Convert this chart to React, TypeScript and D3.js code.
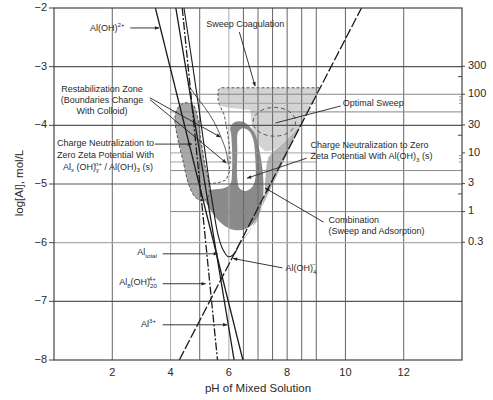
import React from "react";
import * as d3 from "d3";

type P = [number, number];

const W = 493;
const H = 400;

// axis domains and ticks
const phDomain: P = [0, 14];
const logDomain: P = [-8, -2];
const phTicks = [2, 4, 6, 8, 10, 12];
const logTicks = [-2, -3, -4, -5, -6, -7, -8];
const doseTicks = [300, 100, 30, 10, 3, 1, 0.3];
const doseMinor = [200, 20, 2];
const doseCluster = [90, 80, 70, 9, 8, 7];
const doseOffset = 5.47; // log[Al] = log10(dose mg/L) - 5.47

// grid
const vGridDark = [2, 5, 6.5, 7, 7.5, 8, 8.5, 9, 10, 12];
const vGridLight = [4, 6];
const hGridDark = [-3, -4, -5, -7];
const hGridLight = [-6];
const doseGridFull = [100, 50, 5, 1];
const doseGridPartial = [70, 10, 7];

// species lines (pH, log[Al])
const alOH2: P[] = [[3.48, -2], [6.48, -8]];
const al3: P[] = [[4.18, -2], [6.18, -8]];
const al8: P[] = [[4.4, -2], [5.61, -8]];
const alOH4: P[] = [[4.3, -8], [10.55, -2]];
const alTotal: P[] = [
  [4.46, -2], [4.73, -2.89], [4.98, -3.74], [5.22, -4.59], [5.42, -5.27],
  [5.63, -5.87], [5.8, -6.12], [5.98, -6.24], [6.18, -6.19], [6.32, -6.06],
];
const thinCurve: P[] = [
  [4.6, -3.3], [4.84, -3.48], [5.18, -3.7], [5.49, -3.94], [5.73, -4.2], [5.91, -4.45], [5.98, -4.67],
];

// zones
const capsule: P[] = [
  [4.25, -3.7], [4.49, -3.62], [4.77, -3.65], [4.91, -3.82], [5.04, -4.25], [5.18, -4.68],
  [5.32, -5.02], [5.29, -5.22], [5.08, -5.29], [4.84, -5.22], [4.63, -5.02], [4.42, -4.59],
  [4.22, -4.16], [4.15, -3.87],
];
const sweepZone: P[] = [
  [5.63, -3.4], [5.73, -3.36], [9.11, -3.36], [8.49, -3.98], [8.18, -4.15], [7.87, -4.3],
  [7.53, -4.42], [7.25, -4.44], [7.04, -4.35], [6.91, -4.22], [6.8, -4.05], [6.77, -3.87],
  [6.73, -3.74], [5.98, -3.7], [5.73, -3.67], [5.63, -3.57],
];
const combinationZone: P[] = [
  [8.49, -3.98], [7.5, -5.01], [6.8, -5.74], [6.25, -6.13], [6.39, -5.99], [6.67, -5.82],
  [6.94, -5.65], [7.11, -5.44], [7.22, -5.19], [7.25, -4.93], [7.29, -4.68], [7.36, -4.54],
  [7.53, -4.44], [7.87, -4.3], [8.18, -4.15],
];
const chargeZone: P[] = [
  [6.05, -4.03], [6.22, -3.94], [6.49, -3.94], [6.73, -4.03], [6.91, -4.16], [7.01, -4.34],
  [7.11, -4.59], [7.18, -4.9], [7.18, -5.19], [7.08, -5.44], [6.87, -5.65], [6.56, -5.77],
  [6.15, -5.78], [5.77, -5.68], [5.42, -5.48], [5.18, -5.27], [5.18, -5.15], [5.42, -5.1],
  [5.84, -5.07], [6.05, -5.0], [6.11, -4.76], [6.11, -4.42], [6.08, -4.16],
];
const chargeHole: P[] = [
  [6.32, -4.11], [6.49, -4.05], [6.7, -4.1], [6.84, -4.25], [6.91, -4.59], [6.91, -4.9],
  [6.8, -5.05], [6.56, -5.12], [6.36, -5.07], [6.29, -4.92], [6.29, -4.42],
];
const sweepBoundary: P[] = [
  [9.11, -3.36], [5.73, -3.36], [5.63, -3.4], [5.63, -3.57], [5.67, -3.64], [5.84, -3.82],
  [5.94, -4.08], [6.01, -4.33], [6.05, -4.59], [6.01, -4.8], [5.91, -4.93], [5.63, -4.98],
  [5.18, -5.0], [4.98, -5.02],
];
const optimalCenter: P = [7.56, -3.94];
const optimalRadius: P = [0.73, 0.245];

type Seg = { t: string; k?: "sub" | "sup"; back?: number };
type Note = { at: P; segs: Seg[]; anchor?: "start" | "middle" | "end" };
type Arrow = { from: P; to: P; head?: boolean };

const notes: Note[] = [
  { at: [2.42, -2.36], segs: [{ t: "Al(OH)" }, { t: "2+", k: "sup" }], anchor: "end" },
  { at: [5.22, -2.29], segs: [{ t: "Sweep Coagulation" }] },
  { at: [1.65, -3.39], segs: [{ t: "Restabilization Zone" }], anchor: "middle" },
  { at: [1.65, -3.58], segs: [{ t: "(Boundaries Change" }], anchor: "middle" },
  { at: [1.65, -3.77], segs: [{ t: "With Colloid)" }], anchor: "middle" },
  { at: [1.77, -4.32], segs: [{ t: "Charge Neutralization to" }], anchor: "middle" },
  { at: [1.77, -4.52], segs: [{ t: "Zero Zeta Potential With" }], anchor: "middle" },
  {
    at: [1.85, -4.72],
    segs: [
      { t: "Al" }, { t: "x", k: "sub" }, { t: " (OH)" }, { t: "y", k: "sub" }, { t: "n+", k: "sup", back: 4 },
      { t: " / Al(OH)" }, { t: "3", k: "sub" }, { t: " (s)" },
    ],
    anchor: "middle",
  },
  { at: [9.91, -3.64], segs: [{ t: "Optimal Sweep" }] },
  { at: [8.8, -4.35], segs: [{ t: "Charge Neutralization to Zero" }] },
  { at: [8.8, -4.54], segs: [{ t: "Zeta Potential With Al(OH)" }, { t: "3", k: "sub" }, { t: " (s)" }] },
  { at: [9.42, -5.63], segs: [{ t: "Combination" }] },
  { at: [9.42, -5.82], segs: [{ t: "(Sweep and Adsorption)" }] },
  { at: [3.53, -6.17], segs: [{ t: "Al" }, { t: "total", k: "sub" }], anchor: "end" },
  {
    at: [3.53, -6.69],
    segs: [{ t: "Al" }, { t: "8", k: "sub" }, { t: "(OH)" }, { t: "20", k: "sub" }, { t: "4+", k: "sup", back: 8 }],
    anchor: "end",
  },
  { at: [3.5, -7.4], segs: [{ t: "Al" }, { t: "3+", k: "sup" }], anchor: "end" },
  { at: [7.94, -6.45], segs: [{ t: "Al(OH)" }, { t: "4", k: "sub" }, { t: "\u2212", k: "sup", back: 4 }] },
];

const arrows: Arrow[] = [
  { from: [2.62, -2.34], to: [3.6, -2.34] },
  { from: [6.36, -2.41], to: [6.9, -3.33] },
  { from: [3.29, -3.53], to: [5.71, -4.2] },
  { from: [3.29, -3.56], to: [5.91, -4.64] },
  { from: [3.46, -4.32], to: [4.73, -4.32] },
  { from: [9.84, -3.67], to: [7.6, -3.96], head: false },
  { from: [8.67, -4.56], to: [6.63, -4.9] },
  { from: [9.25, -5.65], to: [7.25, -5.07] },
  { from: [3.73, -6.19], to: [5.62, -6.19] },
  { from: [3.73, -6.7], to: [5.2, -6.7] },
  { from: [3.73, -7.4], to: [5.94, -7.4] },
  { from: [7.84, -6.43], to: [6.15, -6.27] },
];

const FONT = "'Liberation Sans', Arial, Helvetica, sans-serif";
const INK = "#2a2a2a";

function Rich({ x, y, segs, size, anchor }: { x: number; y: number; segs: Seg[]; size: number; anchor: string }) {
  let cur = 0;
  return (
    <text x={x} y={y} textAnchor={anchor} fontSize={size} fontFamily={FONT} fill={INK} dominantBaseline="middle">
      {segs.map((s, i) => {
        const target = s.k === "sub" ? size * 0.32 : s.k === "sup" ? -size * 0.42 : 0;
        const dy = target - cur;
        cur = target;
        return (
          <tspan key={i} dy={dy} dx={s.back ? -s.back : 0} fontSize={s.k ? size * 0.68 : size}>
            {s.t}
          </tspan>
        );
      })}
    </text>
  );
}

export default function App() {
  const x = d3.scaleLinear().domain(phDomain).range([54, 462]);
  const y = d3.scaleLinear().domain(logDomain).range([360, 8]);
  const yDose = (d: number) => y(Math.log10(d) - doseOffset);
  const line = d3.line<P>().x((d) => x(d[0])).y((d) => y(d[1]));
  const closed = d3.line<P>().x((d) => x(d[0])).y((d) => y(d[1])).curve(d3.curveLinearClosed);
  const smoothClosed = d3.line<P>().x((d) => x(d[0])).y((d) => y(d[1])).curve(d3.curveCatmullRomClosed.alpha(0.5));
  const smooth = d3.line<P>().x((d) => x(d[0])).y((d) => y(d[1])).curve(d3.curveCatmullRom.alpha(0.5));
  const [x0, x1] = x.range();
  const [yb, yt] = y.range();

  return (
    <svg width={W} height={H} style={{ position: "absolute", left: 0, top: 0, background: "#fff" }}>
      <defs>
        <clipPath id="plot">
          <rect x={x0} y={yt} width={x1 - x0} height={yb - yt} />
        </clipPath>
        <marker id="ah" viewBox="0 0 10 10" refX="9" refY="5" markerWidth="6" markerHeight="5" orient="auto">
          <path d="M0,1 L10,5 L0,9 Z" fill="#222" />
        </marker>
      </defs>

      <g clipPath="url(#plot)">
        {/* zones */}
        <path d={closed(sweepZone) || ""} fill="#d3d3d3" />
        <path d={closed(combinationZone) || ""} fill="#b4b4b4" />
        <path d={smoothClosed(chargeZone) || ""} fill="#8a8a8a" />
        <path d={smoothClosed(chargeHole) || ""} fill="#ffffff" />
        <path d={smoothClosed(capsule) || ""} fill="#a8a8a8" />

        {/* grid */}
        {vGridLight.map((v) => (
          <line key={"vl" + v} x1={x(v)} x2={x(v)} y1={yt} y2={yb} stroke="#aaa" strokeWidth={1} />
        ))}
        {vGridDark.map((v) => (
          <line key={"vd" + v} x1={x(v)} x2={x(v)} y1={yt} y2={yb} stroke="#666" strokeWidth={1} />
        ))}
        {hGridLight.map((v) => (
          <line key={"hl" + v} x1={x0} x2={x1} y1={y(v)} y2={y(v)} stroke="#aaa" strokeWidth={1.2} />
        ))}
        {hGridDark.map((v) => (
          <line key={"hd" + v} x1={x0} x2={x1} y1={y(v)} y2={y(v)} stroke="#555" strokeWidth={1.1} />
        ))}
        {doseGridFull.map((v) => (
          <line key={"dg" + v} x1={x(4)} x2={x1} y1={yDose(v)} y2={yDose(v)} stroke="#888" strokeWidth={1} />
        ))}
        {doseGridPartial.map((v) => (
          <line key={"dp" + v} x1={x(4)} x2={x(9)} y1={yDose(v)} y2={yDose(v)} stroke="#999" strokeWidth={0.9} />
        ))}

        {/* zone boundaries */}
        <path d={smoothClosed(capsule) || ""} fill="none" stroke="#555" strokeWidth={1} strokeDasharray="3,2" />
        <path d={line(sweepBoundary) || ""} fill="none" stroke="#555" strokeWidth={1} strokeDasharray="3,2" />
        <ellipse
          cx={x(optimalCenter[0])}
          cy={y(optimalCenter[1])}
          rx={x(optimalCenter[0] + optimalRadius[0]) - x(optimalCenter[0])}
          ry={y(optimalCenter[1]) - y(optimalCenter[1] + optimalRadius[1])}
          fill="none"
          stroke="#555"
          strokeWidth={1}
          strokeDasharray="4,3"
        />
        <path d={smooth(thinCurve) || ""} fill="none" stroke="#333" strokeWidth={0.8} />

        {/* species */}
        <path d={line(alOH2) || ""} fill="none" stroke="#1a1a1a" strokeWidth={1.3} />
        <path d={line(al3) || ""} fill="none" stroke="#1a1a1a" strokeWidth={1.3} />
        <path d={line(al8) || ""} fill="none" stroke="#1a1a1a" strokeWidth={1.3} strokeDasharray="8,2,2,2" />
        <path d={line(alOH4) || ""} fill="none" stroke="#1a1a1a" strokeWidth={1.3} strokeDasharray="10,2.5" />
        <path d={smooth(alTotal) || ""} fill="none" stroke="#1a1a1a" strokeWidth={1.1} />
      </g>

      {/* frame */}
      <rect x={x0} y={yt} width={x1 - x0} height={yb - yt} fill="none" stroke="#444" strokeWidth={1.2} />

      {/* left axis */}
      {logTicks.map((v) => (
        <g key={"ly" + v}>
          <line x1={x0 - 5} x2={x0} y1={y(v)} y2={y(v)} stroke="#444" />
          <text x={x0 - 7} y={y(v)} textAnchor="end" dominantBaseline="middle" fontSize={11} fontFamily={FONT} fill={INK}>
            {"\u2212" + Math.abs(v)}
          </text>
        </g>
      ))}
      {/* bottom axis */}
      {phTicks.map((v) => (
        <text key={"bx" + v} x={x(v)} y={yb + 13} textAnchor="middle" dominantBaseline="middle" fontSize={11} fontFamily={FONT} fill={INK}>
          {v}
        </text>
      ))}
      {/* right dose axis */}
      {doseTicks.map((v) => (
        <g key={"rd" + v}>
          <line x1={x1} x2={x1 + 3} y1={yDose(v)} y2={yDose(v)} stroke="#444" />
          <text x={x1 + 6} y={yDose(v)} dominantBaseline="middle" fontSize={11} fontFamily={FONT} fill={INK}>
            {v}
          </text>
        </g>
      ))}
      {doseMinor.map((v) => (
        <line key={"rm" + v} x1={x1 - 4} x2={x1} y1={yDose(v)} y2={yDose(v)} stroke="#444" />
      ))}
      {doseCluster.map((v) => (
        <line key={"rc" + v} x1={x1 - 3} x2={x1} y1={yDose(v)} y2={yDose(v)} stroke="#666" strokeWidth={0.7} />
      ))}

      {/* axis titles */}
      <text x={258} y={389} textAnchor="middle" dominantBaseline="middle" fontSize={11.5} fontFamily={FONT} fill={INK}>
        pH of Mixed Solution
      </text>
      <text transform={`translate(20,183) rotate(-90)`} textAnchor="middle" dominantBaseline="middle" fontSize={11.5} fontFamily={FONT} fill={INK}>
        log[Al], mol/L
      </text>

      {/* annotations */}
      {arrows.map((a, i) => (
        <line
          key={"ar" + i}
          x1={x(a.from[0])}
          y1={y(a.from[1])}
          x2={x(a.to[0])}
          y2={y(a.to[1])}
          stroke="#222"
          strokeWidth={0.9}
          markerEnd={a.head === false ? undefined : "url(#ah)"}
        />
      ))}
      {notes.map((n, i) => (
        <Rich key={"nt" + i} x={x(n.at[0])} y={y(n.at[1])} segs={n.segs} size={9} anchor={n.anchor || "start"} />
      ))}
    </svg>
  );
}
